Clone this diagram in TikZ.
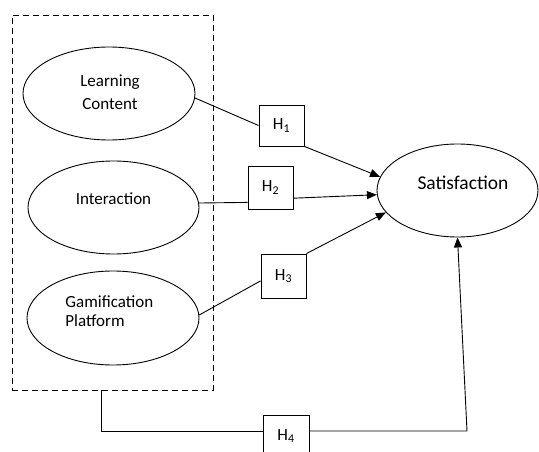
\documentclass[tikz,border=0pt]{standalone}
\usepackage{fontspec}
\setmainfont{Carlito}
\usetikzlibrary{shapes.geometric,arrows.meta}
\begin{document}
\begin{tikzpicture}[x=1pt,y=-1pt,
  line width=0.9pt,
  oval/.style={draw, ellipse, inner sep=0pt},
  hbox/.style={draw, rectangle, inner sep=0pt, minimum width=45pt, font=\fontsize{17}{20}\selectfont},
  lbl/.style={font=\fontsize{17}{23}\selectfont, inner sep=0pt},
  arr/.style={-{Triangle[length=10pt,width=8pt]}},
  grpbox/.style={draw, dash pattern=on 6pt off 4pt, inner sep=0pt}
]
\clip (0,0) rectangle (539,452);
% group box
\node[grpbox, minimum width=201pt, minimum height=375pt] (grp) at (112.5,202.5) {};
% ellipses
\node[oval, minimum width=172pt, minimum height=93pt] (lc) at (109,93.5) {};
\node[lbl, align=center] (lcT) at (110,92.5) {Learning\\Content};
\node[oval, minimum width=171pt, minimum height=93pt] (int) at (113.5,207.5) {};
\node[lbl] (intT) at (113.5,199) {Interaction};
\node[oval, minimum width=172pt, minimum height=94pt] (gam) at (113,318) {};
\node[lbl, align=left, anchor=west, font=\fontsize{17}{19.5}\selectfont] (gamT) at (65,311) {Gamification\\Platform};
\node[oval, minimum width=161pt, minimum height=93pt] (sat) at (457.5,190.5) {};
\node[lbl, font=\fontsize{19.5}{23}\selectfont] (satT) at (463,182.5) {Satisfaction};
% hypothesis boxes
\node[hbox, minimum height=41pt] (h1) at (281.5,125.5) {H\textsubscript{1}};
\node[hbox, minimum height=43pt] (h2) at (270.5,187.5) {H\textsubscript{2}};
\node[hbox, minimum height=44pt] (h3) at (283.5,276) {H\textsubscript{3}};
\node[hbox, minimum height=42pt, minimum width=46pt] (h4) at (286,436) {H\textsubscript{4}};
% connectors
\draw (lc.-3) -- (h1.west);
\draw[arr] (h1.south east) -- (sat.170);
\draw (int.3) -- (h2.213);
\draw[arr] (h2.-25) -- (sat.183);
\draw (gam.2) -- (h3.192);
\draw[arr] (h3.north east) -- (sat.197);
\coordinate (c1) at (101,431);
\coordinate (c2) at (467,431);
\draw (grp.south -| c1) -- (c1) -- (h4.west |- c1);
\draw[arr] (h4.east |- c2) -- (c2) -- (sat.south);
\end{tikzpicture}
\end{document}
